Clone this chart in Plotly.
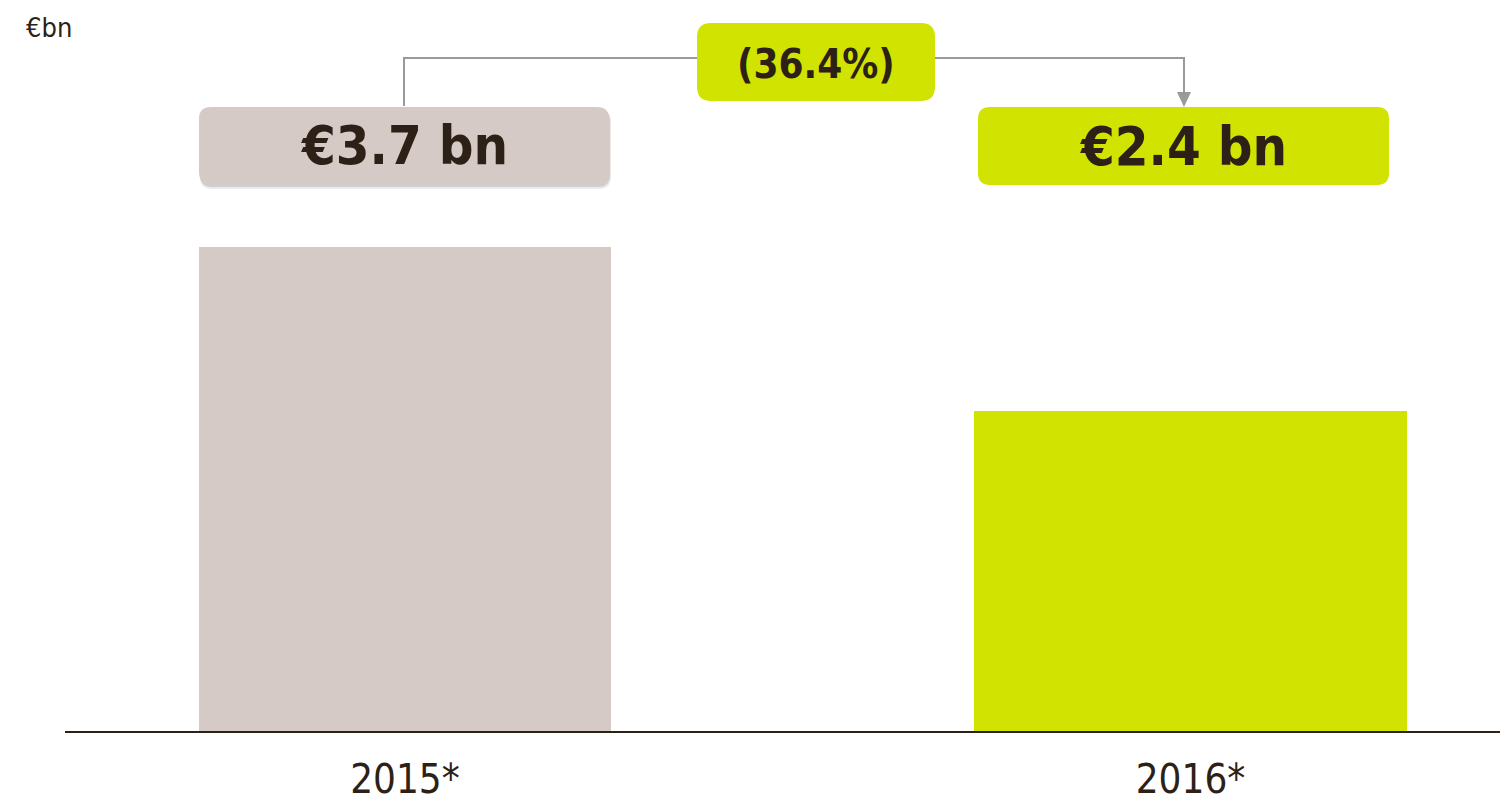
import plotly.graph_objects as go

# ---- data ----
years = ["2015*", "2016*"]
values = [3.7, 2.45]
value_labels = ["€3.7 bn", "€2.4 bn"]
change_label = "(36.4%)"
unit_label = "€bn"

# ---- style ----
bar_colors = ["#d5cac5", "#d1e300"]
box_colors = ["#d5cac5", "#d1e300"]
text_color = "#2d2117"
line_grey = "#9a9a9a"
FONT = "Liberation Sans Narrow, DejaVu Sans Condensed, Arial Narrow, sans-serif"

# page body has an 8px margin: compensate so pixel positions match the window
OFF = 8
W, H = 1508 - OFF, 805 - OFF
ML, MR, MT, MB = 65 - OFF, 0, 0, 805 - 731
PW, PH = W - ML - MR, H - MT - MB


def px(x):
    return (x - OFF - ML) / PW


def py(y):
    return (H - MB - (y - OFF)) / PH


def rrect(x0, y0, x1, y1, r):
    def P(x, y):
        return f"{px(x):.5f},{py(y):.5f}"
    return (f"M {P(x0 + r, y0)} L {P(x1 - r, y0)} Q {P(x1, y0)} {P(x1, y0 + r)} "
            f"L {P(x1, y1 - r)} Q {P(x1, y1)} {P(x1 - r, y1)} "
            f"L {P(x0 + r, y1)} Q {P(x0, y1)} {P(x0, y1 - r)} "
            f"L {P(x0, y0 + r)} Q {P(x0, y0)} {P(x0 + r, y0)} Z")


fig = go.Figure()
fig.add_trace(go.Bar(
    x=[0, 1], y=values, width=[0.525, 0.551],
    marker=dict(color=bar_colors, line=dict(width=0)),
    hoverinfo="skip", showlegend=False,
))

shapes = []
annotations = []

# shadow for first box
shapes.append(dict(type="path", xref="paper", yref="paper",
                   path=rrect(200, 110, 611, 189, 12),
                   fillcolor="rgba(0,0,0,0.08)", line=dict(width=0), layer="above"))
shapes.append(dict(type="path", xref="paper", yref="paper",
                   path=rrect(200, 109, 610, 187, 12),
                   fillcolor="rgba(0,0,0,0.12)", line=dict(width=0), layer="above"))
# value boxes
boxes = [(199, 107, 609, 184), (978, 107, 1389, 185)]
for (x0, y0, x1, y1), c, lab in zip(boxes, box_colors, value_labels):
    shapes.append(dict(type="path", xref="paper", yref="paper",
                       path=rrect(x0, y0, x1, y1, 12),
                       fillcolor=c, line=dict(width=0), layer="above"))
    annotations.append(dict(xref="paper", yref="paper", x=px((x0 + x1) / 2), y=py((y0 + y1) / 2),
                            text=f"<b>{lab}</b>", showarrow=False,
                            font=dict(family=FONT, size=54, color=text_color),
                            xanchor="center", yanchor="middle"))

# connector lines
shapes.append(dict(type="path", xref="paper", yref="paper",
                   path=f"M {px(404):.5f},{py(106):.5f} L {px(404):.5f},{py(58):.5f} L {px(700):.5f},{py(58):.5f}",
                   line=dict(color=line_grey, width=2)))
shapes.append(dict(type="path", xref="paper", yref="paper",
                   path=f"M {px(932):.5f},{py(58):.5f} L {px(1184):.5f},{py(58):.5f} L {px(1184):.5f},{py(94):.5f}",
                   line=dict(color=line_grey, width=2)))
shapes.append(dict(type="path", xref="paper", yref="paper",
                   path=f"M {px(1177):.5f},{py(92):.5f} L {px(1191):.5f},{py(92):.5f} L {px(1184):.5f},{py(107):.5f} Z",
                   fillcolor=line_grey, line=dict(width=0)))
# change box
shapes.append(dict(type="path", xref="paper", yref="paper",
                   path=rrect(697, 23, 935, 101, 14),
                   fillcolor=box_colors[1], line=dict(width=0), layer="above"))
annotations.append(dict(xref="paper", yref="paper", x=px(816), y=py(64),
                        text=f"<b>{change_label}</b>", showarrow=False,
                        font=dict(family=FONT, size=40, color=text_color),
                        xanchor="center", yanchor="middle"))
# unit label
annotations.append(dict(xref="paper", yref="paper", x=px(24), y=py(27),
                        text=unit_label, showarrow=False,
                        font=dict(family=FONT, size=27, color=text_color),
                        xanchor="left", yanchor="middle"))

fig.update_layout(
    width=W, height=H,
    margin=dict(l=ML, r=MR, t=MT, b=MB),
    paper_bgcolor="white", plot_bgcolor="white",
    shapes=shapes, annotations=annotations,
    xaxis=dict(range=[-0.4328, 1.4042], tickvals=[0, 1], ticktext=years,
               showgrid=False, zeroline=False, showline=True,
               linecolor=text_color, linewidth=2, ticks="",
               automargin=False,
               ticklabelstandoff=12,
               tickfont=dict(family=FONT, size=40, color=text_color)),
    yaxis=dict(range=[0, PH / 130.8], visible=False, showgrid=False,
               zeroline=False, automargin=False),
    bargap=0,
)

fig.write_html("out.html")
